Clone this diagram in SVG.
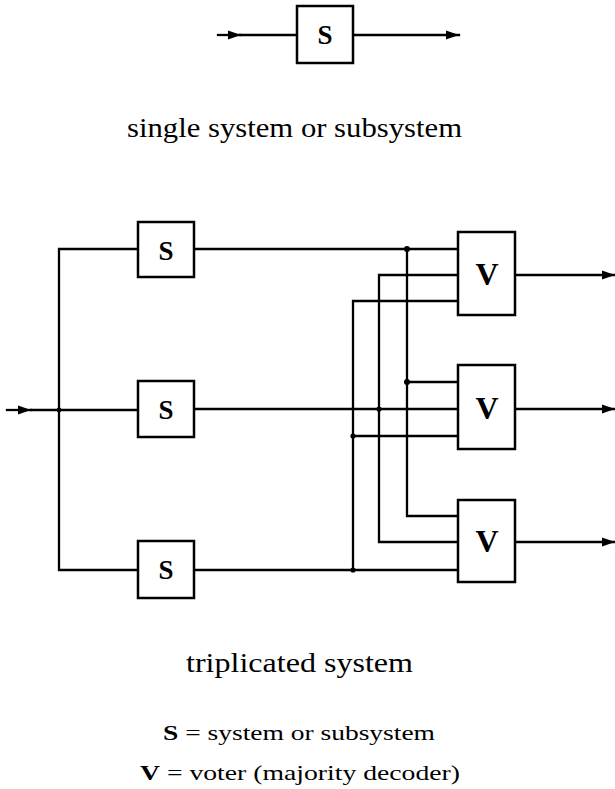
<svg xmlns="http://www.w3.org/2000/svg" width="615" height="789" viewBox="0 0 615 789">
  <style>
    .box { fill: #fff; stroke: #000; stroke-width: 2.5; }
    .wire { fill: none; stroke: #000; stroke-width: 2.3; stroke-linecap: square; }
    .lbl { font-family: "Liberation Serif", "DejaVu Serif", serif; font-weight: bold; fill: #000; text-anchor: middle; }
    .cap { font-family: "Liberation Serif", "DejaVu Serif", serif; fill: #000; }
    .dot { fill: #000; }
  </style>
  <defs>
    <marker id="arrow" viewBox="0 0 13 10" refX="13" refY="5" markerWidth="13" markerHeight="10" markerUnits="userSpaceOnUse" orient="auto">
      <path d="M0,0.5 L13,5 L0,9.5 Z" fill="#000"/>
    </marker>
  </defs>
  <rect width="615" height="789" fill="#fff"/>

  <!-- single system -->
  <g id="single-connectors">
    <line class="wire" x1="218" y1="35" x2="241" y2="35" marker-end="url(#arrow)"/>
    <line class="wire" x1="240" y1="35" x2="297" y2="35"/>
    <line class="wire" x1="353" y1="35" x2="459" y2="35" marker-end="url(#arrow)"/>
  </g>
  <g id="single-S">
    <rect class="box" x="297" y="6" width="56" height="57"/>
    <text class="lbl" x="325" y="44" font-size="27">S</text>
  </g>
  <text class="cap" x="127" y="137" font-size="27" textLength="335" lengthAdjust="spacingAndGlyphs">single system or subsystem</text>

  <!-- triplicated system: wiring -->
  <g id="connectors">
    <!-- input and fan-out -->
    <line class="wire" x1="7" y1="410" x2="31" y2="410" marker-end="url(#arrow)"/>
    <line class="wire" x1="31" y1="410" x2="138" y2="410"/>
    <polyline class="wire" points="138,249 59,249 59,570 138,570"/>
    <!-- module outputs -->
    <line class="wire" x1="194" y1="249" x2="458" y2="249"/>
    <line class="wire" x1="194" y1="409" x2="458" y2="409"/>
    <line class="wire" x1="194" y1="570" x2="458" y2="570"/>
    <!-- cross-feeds to voters -->
    <polyline class="wire" points="407,249 407,516 458,516" stroke-width="2.8"/>
    <line class="wire" x1="407" y1="382" x2="458" y2="382"/>
    <polyline class="wire" points="458,275 379,275 379,542 458,542"/>
    <polyline class="wire" points="458,301 353,301 353,570"/>
    <line class="wire" x1="353" y1="436" x2="458" y2="436"/>
    <!-- voter outputs -->
    <line class="wire" x1="515" y1="275" x2="615" y2="275" marker-end="url(#arrow)"/>
    <line class="wire" x1="515" y1="409" x2="615" y2="409" marker-end="url(#arrow)"/>
    <line class="wire" x1="515" y1="542" x2="615" y2="542" marker-end="url(#arrow)"/>
    <!-- junctions -->
    <circle class="dot" cx="59" cy="410" r="2.4"/>
    <circle class="dot" cx="407" cy="249" r="3"/>
    <circle class="dot" cx="407" cy="382" r="3"/>
    <circle class="dot" cx="379" cy="409" r="2.6"/>
    <circle class="dot" cx="353" cy="436" r="2.6"/>
    <circle class="dot" cx="353" cy="570" r="2.6"/>
  </g>

  <!-- modules -->
  <g id="S1">
    <rect class="box" x="138" y="222" width="56" height="55"/>
    <text class="lbl" x="166" y="260" font-size="27">S</text>
  </g>
  <g id="S2">
    <rect class="box" x="138" y="381" width="56" height="56"/>
    <text class="lbl" x="166" y="419" font-size="27">S</text>
  </g>
  <g id="S3">
    <rect class="box" x="138" y="541" width="56" height="57"/>
    <text class="lbl" x="166" y="579" font-size="27">S</text>
  </g>

  <!-- voters -->
  <g id="V1">
    <rect class="box" x="458" y="232" width="57" height="83"/>
    <text class="lbl" x="487" y="285" font-size="32">V</text>
  </g>
  <g id="V2">
    <rect class="box" x="458" y="365" width="57" height="84"/>
    <text class="lbl" x="487" y="419" font-size="32">V</text>
  </g>
  <g id="V3">
    <rect class="box" x="458" y="500" width="57" height="82"/>
    <text class="lbl" x="487" y="552" font-size="32">V</text>
  </g>

  <text class="cap" x="186" y="672" font-size="27" textLength="227" lengthAdjust="spacingAndGlyphs">triplicated system</text>

  <!-- legend -->
  <text class="cap" x="163" y="740" font-size="22" textLength="272" lengthAdjust="spacingAndGlyphs"><tspan font-weight="bold">S</tspan> = system or subsystem</text>
  <text class="cap" x="140" y="780" font-size="22" textLength="320" lengthAdjust="spacingAndGlyphs"><tspan font-weight="bold">V</tspan> = voter (majority decoder)</text>
</svg>
